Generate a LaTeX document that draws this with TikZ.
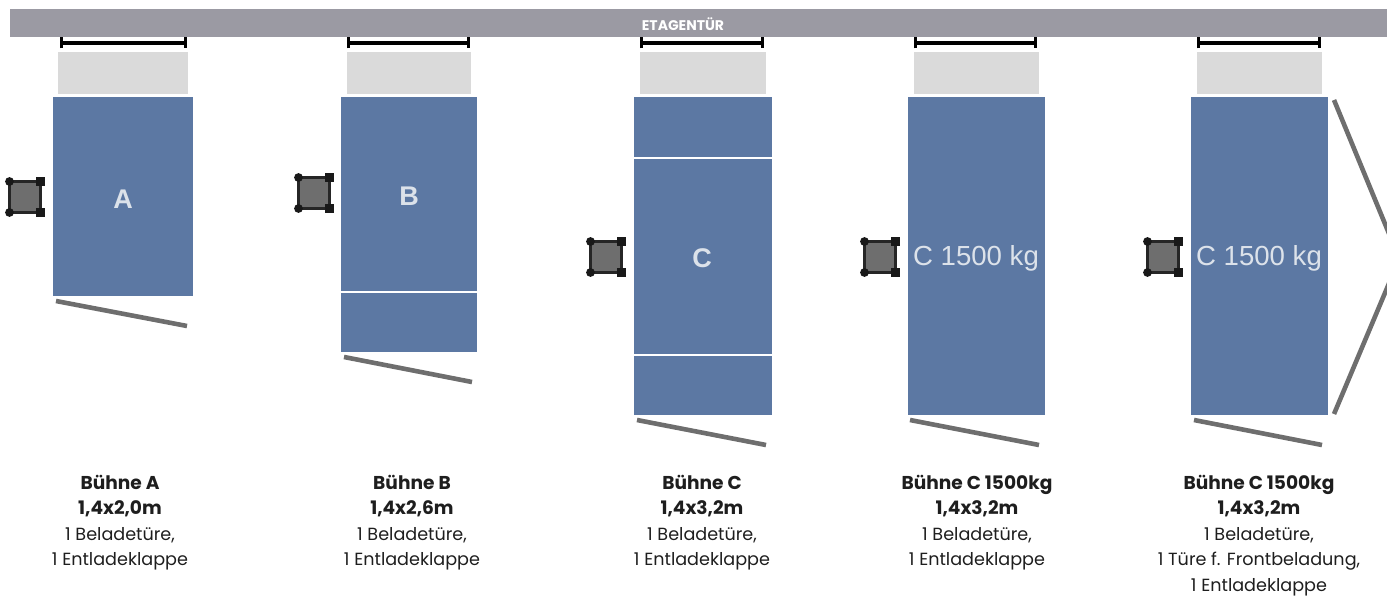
\documentclass[tikz,border=0pt]{standalone}
\usepackage{fontspec}
\setmainfont{Poppins}
\newfontfamily\labelfont{Liberation Sans}
\definecolor{bar}{HTML}{9B9AA3}
\definecolor{plat}{HTML}{5C78A3}
\definecolor{door}{HTML}{DADADA}
\definecolor{flapc}{HTML}{6E6E6E}
\definecolor{txt}{HTML}{1E1E1E}
\definecolor{lab}{HTML}{DCE2EA}
\usetikzlibrary{arrows.meta}
\tikzset{
  x=1pt,y=-1pt,
  header/.style={fill=bar,draw=none,inner sep=0pt},
  platform/.style={fill=plat,draw=none},
  etage/.style={fill=door,draw=none},
  span/.style={line width=3.4pt,black,{Bar[width=11pt,line width=3pt]}-{Bar[width=11pt,line width=3pt]}},
  divider/.style={white,line width=2.2pt},
  flap/.style={flapc,line width=4.6pt},
  onplat/.style={text=lab,font=\labelfont,inner sep=0pt},
  caption/.style={align=center,text=txt,font=\fontsize{17.6}{25.4}\selectfont,anchor=north,inner sep=0pt},
}
\newcommand{\bt}[1]{{\fontsize{18.6}{25.4}\selectfont\bfseries #1}}
% #1 name, #2 centre x, #3 centre y
\newcommand{\postbox}[3]{%
  \node[draw=black!85,fill=flapc,line width=2.8pt,minimum size=31pt,inner sep=0pt,outer sep=0pt] (#1) at (#2,#3) {};
  \fill[black!90] (#1.north west) circle (4.4pt) (#1.south west) circle (4.4pt);
  \fill[black!90] ([shift={(-4.3,-4.3)}]#1.north east) rectangle ++(8.6,8.6);
  \fill[black!90] ([shift={(-4.3,-4.3)}]#1.south east) rectangle ++(8.6,8.6);
}
\begin{document}
\begin{tikzpicture}
\useasboundingbox (0,0) rectangle (1387,596);
\fill[header] (10,9) rectangle (1387,37);
\node[text=white,font=\fontsize{14}{16}\selectfont\bfseries,inner sep=0pt] (title) at (683,24) {ETAGENTÜR};

% A
\coordinate (a1) at (60,43); \coordinate (a2) at (187,43);
\draw[span] (a1) -- (a2);
\fill[etage] (58,52) rectangle (188,94);
\fill[platform] (53,97) rectangle (193,296);
\node[onplat,font=\labelfont\bfseries\fontsize{27}{29}\selectfont] (la) at (123,199) {A};
\postbox{pa}{25}{197}
\coordinate (fa1) at (56,301); \coordinate (fa2) at (187,326);
\draw[flap] (fa1) -- (fa2);
\node[caption] (ca) at (120,475) {\bt{Bühne A}\\\bt{1,4x2,0m}\\1 Beladetüre,\\1 Entladeklappe};

% B
\coordinate (b1) at (347,43); \coordinate (b2) at (470,43);
\draw[span] (b1) -- (b2);
\fill[etage] (347,52) rectangle (471,94);
\fill[platform] (341,97) rectangle (477,352);
\draw[divider] (341,292) -- (477,292);
\node[onplat,font=\labelfont\bfseries\fontsize{27}{29}\selectfont] (lb) at (409,196) {B};
\postbox{pb}{314}{193}
\coordinate (fb1) at (344,357); \coordinate (fb2) at (472,382);
\draw[flap] (fb1) -- (fb2);
\node[caption] (cb) at (412,475) {\bt{Bühne B}\\\bt{1,4x2,6m}\\1 Beladetüre,\\1 Entladeklappe};

% C
\coordinate (c1) at (640,43); \coordinate (c2) at (764,43);
\draw[span] (c1) -- (c2);
\fill[etage] (640,52) rectangle (766,94);
\fill[platform] (634,97) rectangle (772,415);
\draw[divider] (634,158) -- (772,158);
\draw[divider] (634,355) -- (772,355);
\node[onplat,font=\labelfont\bfseries\fontsize{27}{29}\selectfont] (lc) at (702,258) {C};
\postbox{pc}{606}{257}
\coordinate (fc1) at (637,420); \coordinate (fc2) at (766,445);
\draw[flap] (fc1) -- (fc2);
\node[caption] (cc) at (702,475) {\bt{Bühne C}\\\bt{1,4x3,2m}\\1 Beladetüre,\\1 Entladeklappe};

% C 1500
\coordinate (d1) at (914,43); \coordinate (d2) at (1037,43);
\draw[span] (d1) -- (d2);
\fill[etage] (914,52) rectangle (1039,94);
\fill[platform] (908,97) rectangle (1045,415);
\node[onplat,font=\labelfont\fontsize{27.6}{29}\selectfont] (ld) at (976,258) {C 1500 kg};
\postbox{pd}{880}{257}
\coordinate (fd1) at (910,420); \coordinate (fd2) at (1039,445);
\draw[flap] (fd1) -- (fd2);
\node[caption] (cd) at (977,475) {\bt{Bühne C 1500kg}\\\bt{1,4x3,2m}\\1 Beladetüre,\\1 Entladeklappe};

% C 1500 front
\coordinate (e1) at (1197,43); \coordinate (e2) at (1321,43);
\draw[span] (e1) -- (e2);
\fill[etage] (1197,52) rectangle (1322,94);
\fill[platform] (1191,97) rectangle (1328,415);
\node[onplat,font=\labelfont\fontsize{27.6}{29}\selectfont] (le) at (1259,258) {C 1500 kg};
\postbox{pe}{1163}{257}
\coordinate (fe1) at (1194,420); \coordinate (fe2) at (1322,445);
\draw[flap] (fe1) -- (fe2);
\coordinate (g1) at (1334,100); \coordinate (g2) at (1390,236);
\coordinate (h1) at (1334,414); \coordinate (h2) at (1390,281);
\draw[flap] (g1) -- (g2);
\draw[flap] (h1) -- (h2);
\node[caption] (ce) at (1259,475) {\bt{Bühne C 1500kg}\\\bt{1,4x3,2m}\\1 Beladetüre,\\1 Türe f. Frontbeladung,\\1 Entladeklappe};
\end{tikzpicture}
\end{document}
